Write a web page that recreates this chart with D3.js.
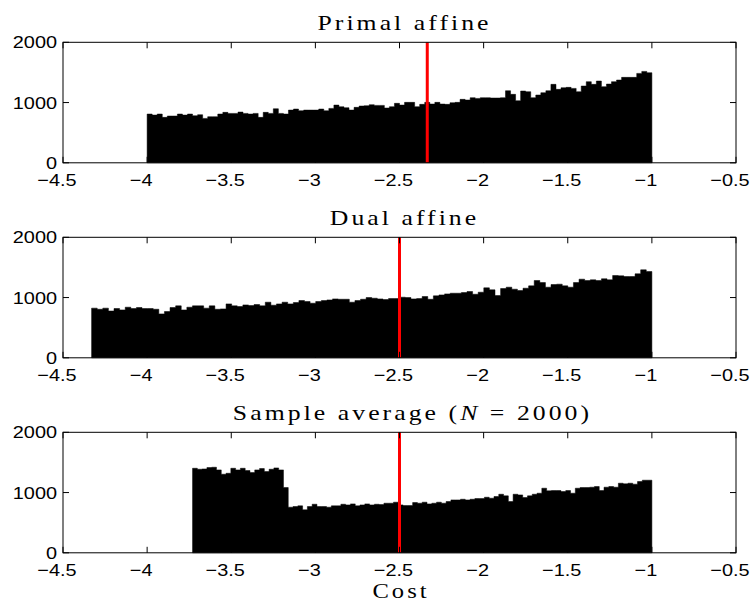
<!DOCTYPE html>
<html>
<head>
<meta charset="utf-8">
<script src="https://cdn.jsdelivr.net/npm/d3@7"></script>
<style>
body{margin:0;background:#fff;}
.tick-label{font-family:"Liberation Sans",Arial,sans-serif;font-size:17px;fill:#000;}
.title{font-family:"Liberation Serif","Times New Roman",serif;font-size:22px;fill:#000;letter-spacing:2.6px;}
</style>
</head>
<body>
<svg id="chart" width="753" height="606"></svg>
<script>
// histogram counts, one value per bin
var primalCounts = [809,792,809,754,776,776,809,792,809,781,798,737,765,765,809,837,820,820,842,820,
	809,820,754,837,820,897,820,809,875,892,864,875,875,875,892,864,903,958,930,914,
	875,920,942,947,964,953,953,909,931,987,958,1003,1003,931,970,1003,975,1003,975,970,
	997,1003,1053,1042,1080,1069,1080,1080,1075,1075,1080,1196,1136,1030,1191,1180,1080,1125,1163,1196,
	1302,1219,1246,1252,1235,1180,1274,1346,1302,1357,1263,1307,1346,1374,1418,1418,1418,1484,1517,1495];
var dualCounts = [824,806,824,777,818,795,840,818,835,818,818,806,729,768,835,862,795,840,862,862,
	824,862,806,812,895,862,851,878,867,884,862,923,873,895,923,895,917,950,934,906,
	934,950,961,978,972,972,923,950,972,1000,989,978,967,983,983,1006,1000,978,983,1017,
	972,1028,1044,1061,1072,1072,1083,1100,1055,1089,1161,1128,1033,1150,1172,1139,1117,1155,1194,1283,
	1249,1172,1216,1222,1194,1172,1249,1305,1283,1294,1283,1311,1294,1366,1360,1349,1349,1394,1460,1432];
var sampleCounts = [1403,1387,1392,1414,1420,1376,1304,1320,1403,1376,1403,1365,1331,1376,1398,1348,1387,1409,1376,
	1083,
	757,768,779,713,768,806,768,768,757,779,779,806,795,812,779,795,812,795,806,800,
	823,823,840,795,784,784,834,823,840,812,823,840,823,851,878,878,889,878,889,900,
	900,922,906,934,972,945,851,972,961,917,945,972,989,1072,1028,1033,1033,1017,1033,989,
	1072,1083,1083,1089,1100,1033,1089,1100,1089,1155,1144,1155,1139,1183,1205,1205];

var primalRange = [-4, -1];
var dualRange = [-4.33, -1];
var sampleRange = [-3.73, -1];

var redLines = [-2.335, -2.5, -2.5];
var xTicks = [-4.5,-4,-3.5,-3,-2.5,-2,-1.5,-1,-0.5];
var yTicks = [0,1000,2000];

var panels = [
	{title:"Primal affine", counts:primalCounts, range:primalRange, red:redLines[0]},
	{title:"Dual affine", counts:dualCounts, range:dualRange, red:redLines[1]},
	{title:"Sample average", counts:sampleCounts, range:sampleRange, red:redLines[2]}
];

const svg = d3.select("#chart");
var left = 63, right = 736, plotH = 120.5;
var tops = [42.3, 237.3, 432.3];
var sx = 1.17; // text in the picture is a bit wider than tall

var xScale = d3.scaleLinear().domain([-4.5,-0.5]).range([left,right]);
var fmt = d3.format("~g");

function wideText(g, x, y, cls, anchor){
	return g.append("text")
	.attr("class",cls)
	.attr("text-anchor",anchor)
	.attr("transform","translate("+x+","+y+") scale("+sx+",1)");
}

panels.forEach(function(p,k){
	var top = tops[k];
	var yScale = d3.scaleLinear().domain([0,2000]).range([top+plotH, top]);
	var g = svg.append("g");
	var w = (p.range[1]-p.range[0])/p.counts.length;

	// one step outline per histogram so the bins join without seams
	var steps = p.counts.map(function(d,i){return {x:p.range[0]+i*w, c:d};});
	steps.push({x:p.range[1], c:p.counts[p.counts.length-1]});
	var area = d3.area()
	.curve(d3.curveStepAfter)
	.x(function(d){return xScale(d.x);})
	.y0(yScale(0))
	.y1(function(d){return yScale(d.c);});

	g.append("path")
	.datum(steps)
	.attr("d",area)
	.attr("fill","#000")
	.attr("stroke","#000")
	.attr("stroke-width",0.5);

	g.append("line")
	.attr("x1",xScale(p.red)).attr("x2",xScale(p.red))
	.attr("y1",top).attr("y2",top+plotH)
	.attr("stroke","#ff0000")
	.attr("stroke-width",3);

	// box with inward ticks on all sides
	g.append("rect")
	.attr("x",left).attr("y",top)
	.attr("width",right-left).attr("height",plotH)
	.attr("fill","none").attr("stroke","#000").attr("stroke-width",1);

	xTicks.forEach(function(t){
		g.append("line").attr("x1",xScale(t)).attr("x2",xScale(t))
		.attr("y1",top+plotH).attr("y2",top+plotH-6).attr("stroke","#000");
		g.append("line").attr("x1",xScale(t)).attr("x2",xScale(t))
		.attr("y1",top).attr("y2",top+6).attr("stroke","#000");
		wideText(g, xScale(t)-6, top+plotH+23.5, "tick-label", "middle").text(fmt(t));
	});

	yTicks.forEach(function(t){
		g.append("line").attr("x1",left).attr("x2",left+6)
		.attr("y1",yScale(t)).attr("y2",yScale(t)).attr("stroke","#000");
		g.append("line").attr("x1",right).attr("x2",right-6)
		.attr("y1",yScale(t)).attr("y2",yScale(t)).attr("stroke","#000");
		wideText(g, left-6, yScale(t)+6, "tick-label", "end").text(t);
	});

	var title = wideText(g, (left+right)/2 + (k==2 ? 13 : 5), top-12, "title", "middle");
	title.append("tspan").text(p.title);
	if(k==2){
		title.append("tspan").text(" (");
		title.append("tspan").style("font-style","italic").text("N");
		title.append("tspan").text(" = 2000)");
	}
});

wideText(svg, 401, 598, "title", "middle").style("font-size","21px").text("Cost");
</script>
</body>
</html>
